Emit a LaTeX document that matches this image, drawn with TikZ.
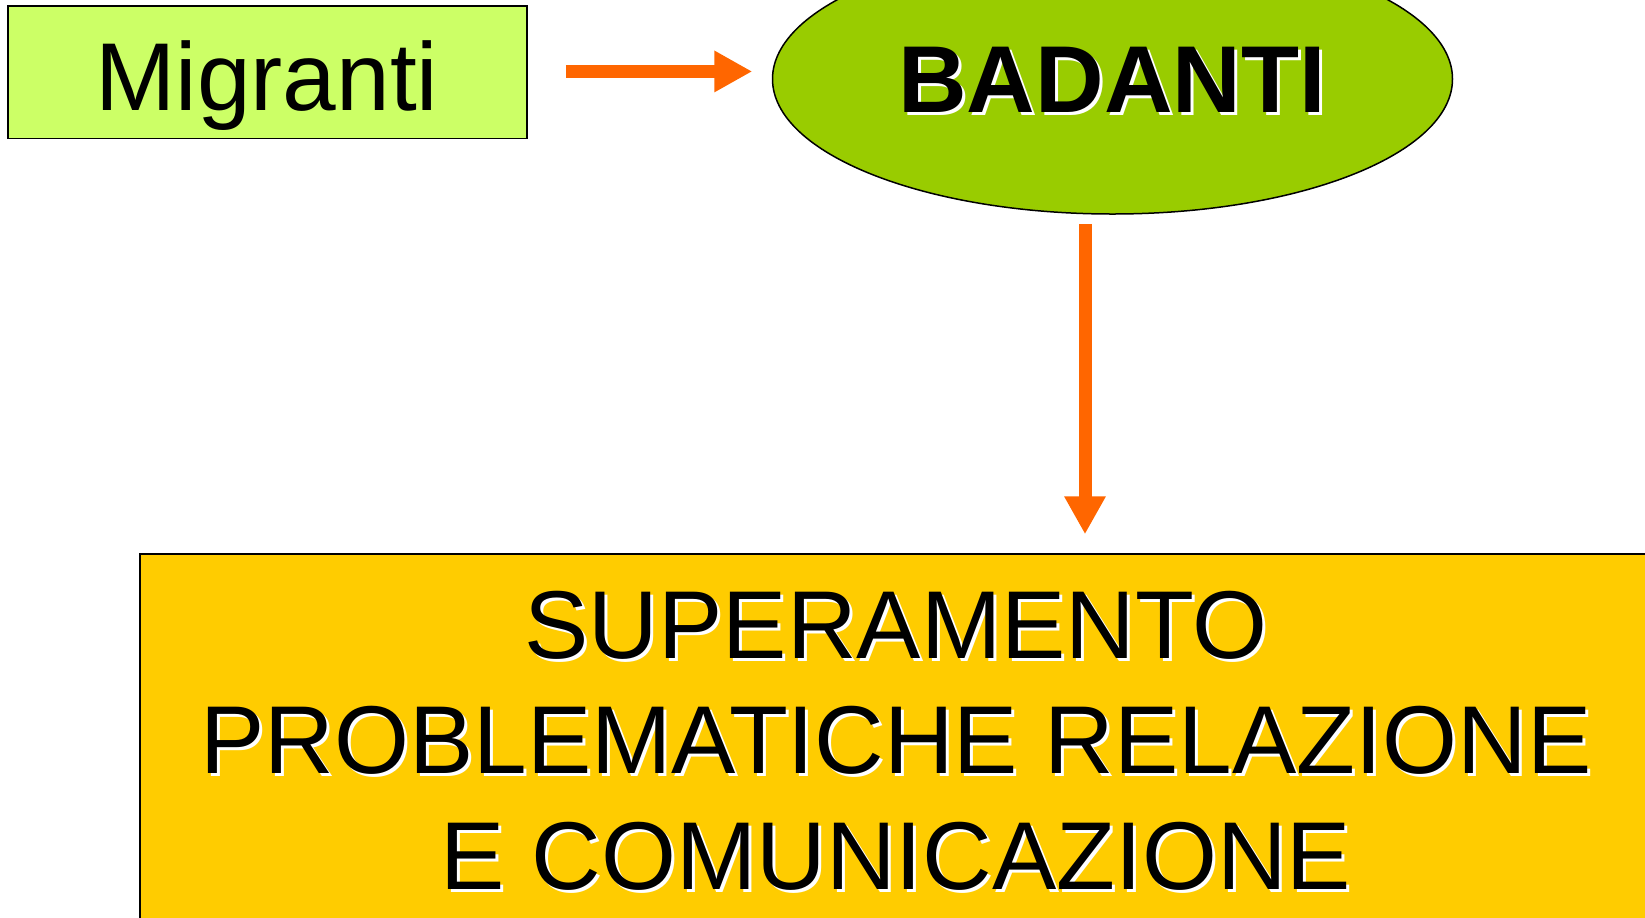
\documentclass[tikz,border=0pt]{standalone}
\usepackage{fontspec}
\setmainfont{Liberation Sans}
\definecolor{limeLight}{HTML}{CCFF66}
\definecolor{limeDark}{HTML}{99CC00}
\definecolor{flowOrange}{HTML}{FF6600}
\definecolor{boxGold}{HTML}{FFCC00}
\usetikzlibrary{shapes.geometric}
\usetikzlibrary{arrows.meta}

\tikzset{
  bigtext/.style={font=\fontsize{48.2}{57.75}\selectfont, inner sep=0pt, anchor=base},
  shadowtext/.style={bigtext, white},
  flowarrow/.style={flowOrange, line width=6.5pt, -{Triangle[length=19pt,width=19.5pt]}},
  framed/.style={draw=black, line width=0.75pt, inner sep=0pt}
}

\begin{document}
\begin{tikzpicture}[x=0.5pt, y=-0.5pt]
  \useasboundingbox (0,0) rectangle (1645,917);
  \clip (0,0) rectangle (1645,917);

  % boxes
  \node[framed, fill=limeLight, minimum width=259.5pt, minimum height=66.25pt] (migranti) at (267.5,72.25) {};
  \node[framed, fill=limeDark, ellipse, minimum width=340pt, minimum height=135pt] (badanti) at (1112.5,79) {};
  \node[framed, fill=boxGold, minimum width=760pt, minimum height=188pt] (superamento) at (900,742) {};

  % texts
  \node[bigtext] (migrantiText) at (267,110) {Migranti};

  \node[shadowtext, font=\fontsize{47.5}{57.75}\selectfont\bfseries] (badantiShadow) at (1115,115) {BADANTI};
  \node[bigtext, font=\fontsize{47.5}{57.75}\selectfont\bfseries] (badantiText) at (1112,112) {BADANTI};

  \node[shadowtext] (lineOneShadow) at (899,661) {SUPERAMENTO};
  \node[bigtext] (lineOne) at (896,658) {SUPERAMENTO};
  \node[shadowtext] (lineTwoShadow) at (899,776.5) {PROBLEMATICHE RELAZIONE};
  \node[bigtext] (lineTwo) at (896,773.5) {PROBLEMATICHE RELAZIONE};
  \node[shadowtext] (lineThreeShadow) at (899,892) {E COMUNICAZIONE};
  \node[bigtext] (lineThree) at (896,889) {E COMUNICAZIONE};

  % arrows
  \draw[flowarrow, shorten <=19pt, shorten >=9.75pt] ([yshift=0.4pt]migranti.east) -- ([yshift=0.4pt]migranti.east -| badanti.west);
  \draw[flowarrow, shorten <=4.5pt, shorten >=9.5pt] ([xshift=-13.75pt]badanti.south) coordinate (arrowTop) -- (arrowTop |- superamento.north);
\end{tikzpicture}
\end{document}
